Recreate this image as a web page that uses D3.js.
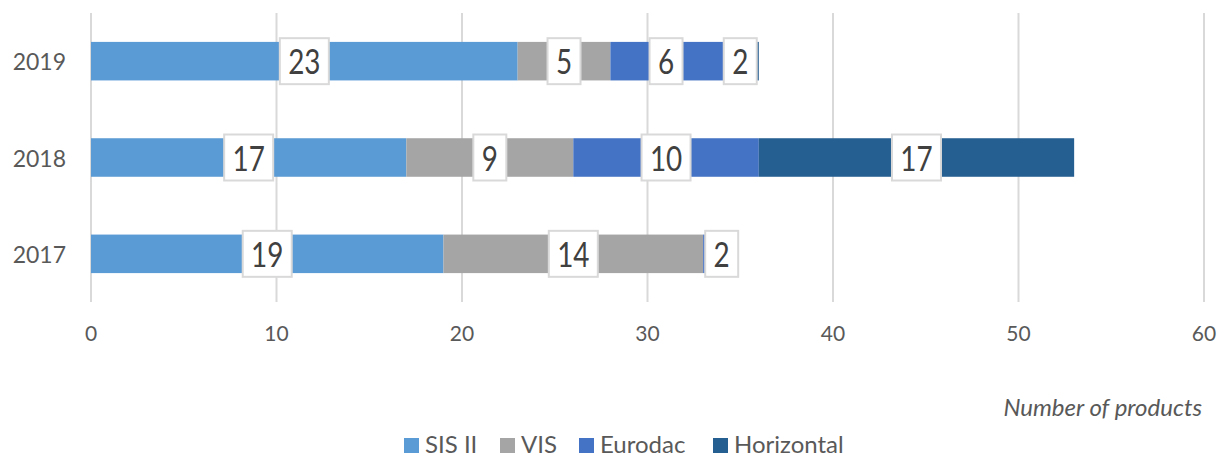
<!DOCTYPE html>
<html>
<head>
<meta charset="utf-8">
<script src="https://cdn.jsdelivr.net/npm/d3@7"></script>
<style>
  html, body { margin: 0; padding: 0; background: #fff; }
  svg { display: block; font-family: Lato, "Open Sans", sans-serif; }
</style>
</head>
<body>
<svg id="chart" width="1227" height="457"></svg>
<script>
// ---- data ----
const categories = ["2019", "2018", "2017"];
const seriesNames = ["SIS II", "VIS", "Eurodac", "Horizontal"];
// bar lengths as drawn in the picture
const sisValues = [23, 17, 19];
const visValues = [5, 9, 14];
const eurodacValues = [7.9, 10, 1.5];
const horizontalValues = [0.1, 17, 0];
// numbers shown in the data labels
const sisLabels = [23, 17, 19];
const visLabels = [5, 9, 14];
const eurodacLabels = [6, 10, 2];
const horizontalLabels = [2, 17, null];
const xTicks = [0, 10, 20, 30, 40, 50, 60];
const axisTitle = "Number of products";

const colors = ["#5B9BD5", "#A5A5A5", "#4472C4", "#255E91"];
const values = [sisValues, visValues, eurodacValues, horizontalValues];
const labels = [sisLabels, visLabels, eurodacLabels, horizontalLabels];

const svg = d3.select("#chart");
const plot = { left: 91, right: 1204, top: 13, bottom: 302 };

const x = d3.scaleLinear().domain([0, 60]).range([plot.left, plot.right]);
const y = d3.scaleBand().domain(categories).range([plot.top, plot.bottom])
  .paddingInner(0.6).paddingOuter(0.3);

// gridlines
svg.append("g").selectAll("line").data(xTicks).join("line")
  .attr("x1", d => x(d)).attr("x2", d => x(d))
  .attr("y1", plot.top).attr("y2", plot.bottom)
  .attr("stroke", "#D9D9D9").attr("stroke-width", 2);

// x tick labels
svg.append("g").selectAll("text").data(xTicks).join("text")
  .attr("x", d => x(d)).attr("y", 332)
  .attr("text-anchor", "middle").attr("dominant-baseline", "central")
  .attr("font-size", 21).attr("fill", "#595959")
  .text(d => d);

// y category labels
svg.append("g").selectAll("text").data(categories).join("text")
  .attr("x", 66).attr("y", d => y(d) + y.bandwidth() / 2)
  .attr("text-anchor", "end").attr("dominant-baseline", "central")
  .attr("font-size", 23).attr("fill", "#595959")
  .text(d => d);

// stacked bars
const rows = categories.map((c, i) => {
  let acc = 0, accL = 0;
  return seriesNames.map((s, k) => {
    const v = values[k][i];
    const seg = { cat: c, k, x0: acc, x1: acc + v, label: labels[k][i] };
    acc += v;
    if (seg.label != null) { seg.lc = accL + seg.label / 2; accL += seg.label; }
    return seg;
  });
});
const segs = rows.flat();

svg.append("g").selectAll("rect").data(segs.filter(d => d.x1 > d.x0)).join("rect")
  .attr("x", d => x(d.x0)).attr("width", d => x(d.x1) - x(d.x0))
  .attr("y", d => y(d.cat)).attr("height", y.bandwidth())
  .attr("fill", d => colors[d.k]);

// data labels
const lab = svg.append("g").selectAll("g").data(segs.filter(d => d.label != null)).join("g")
  .attr("transform", d => `translate(${x(d.lc)},${y(d.cat) + y.bandwidth() / 2})`);
lab.append("rect")
  .attr("x", d => -(String(d.label).length * 16 + 17) / 2)
  .attr("width", d => String(d.label).length * 16 + 17)
  .attr("y", -23).attr("height", 46)
  .attr("fill", "#fff").attr("stroke", "#D9D9D9").attr("stroke-width", 2);
lab.append("text")
  .attr("text-anchor", "middle").attr("dominant-baseline", "central")
  .attr("transform", "scale(0.82,1)")
  .attr("font-size", 34).attr("fill", "#404040")
  .text(d => d.label);

// axis title
svg.append("text")
  .attr("x", 1202).attr("y", 416)
  .attr("text-anchor", "end")
  .attr("font-size", 24).attr("font-style", "italic").attr("fill", "#595959")
  .text(axisTitle);

// legend
const legendX = [404, 500, 579, 713];
const lg = svg.append("g").selectAll("g").data(seriesNames).join("g")
  .attr("transform", (d, i) => `translate(${legendX[i]},438)`);
lg.append("rect").attr("width", 15).attr("height", 15).attr("fill", (d, i) => colors[i]);
lg.append("text").attr("x", 21).attr("y", 15)
  .attr("font-size", 24).attr("fill", "#595959")
  .text(d => d);
</script>
</body>
</html>
